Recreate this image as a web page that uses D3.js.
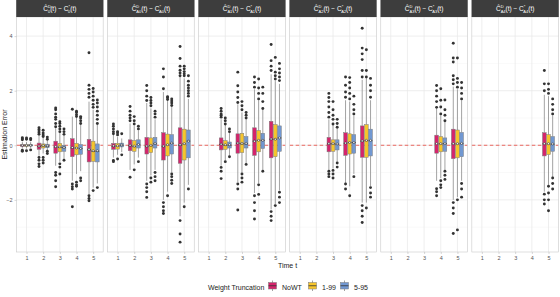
<!DOCTYPE html>
<html>
<head>
<meta charset="utf-8">
<script src="https://cdn.jsdelivr.net/npm/d3@7"></script>
<style>
  body { margin: 0; background: #fff; }
  text { font-family: "Liberation Sans", Arial, sans-serif; }
</style>
</head>
<body>
<svg id="chart" width="560" height="297"></svg>
<script>
const times = [1, 2, 3, 4, 5];
const groups = ["NoWT", "1-99", "5-95"];
const groupColors = ["#D5246C", "#F6C52B", "#7198D2"];
const panelSubs = ["0", "A0", "A1", "A2", "A3", "A4"];
const yTicks = [-2, 0, 2, 4];
const yMinor = [-3, -1, 1, 3];

// rows: [time, group, lowerWhisker, q1, median, mean, q3, upperWhisker, outliers]
const boxesC0 = [
  [1, 0, -0.12, -0.04, -0.01, 0.0, 0.02, 0.12, [0.2, 0.24, 0.28, -0.18, -0.22]],
  [1, 1, -0.12, -0.04, -0.01, 0.0, 0.02, 0.12, [0.22, 0.27, -0.2]],
  [1, 2, -0.1, -0.03, 0.0, 0.0, 0.02, 0.12, [0.2, 0.25, -0.17]],
  [2, 0, -0.38, -0.15, -0.05, -0.03, 0.08, 0.35, [0.4, 0.46, 0.52, 0.58, 0.64, -0.45, -0.55, -0.68, -0.78]],
  [2, 1, -0.3, -0.1, -0.02, -0.01, 0.05, 0.28, [0.32, 0.38, 0.45, 0.55, -0.45, -0.55, -0.65]],
  [2, 2, -0.2, -0.09, -0.04, -0.02, 0.04, 0.18, [0.22, 0.3, -0.22, -0.3]],
  [3, 0, -0.75, -0.29, -0.07, -0.05, 0.15, 0.62, [0.68, 0.8, 0.95, 1.03, 1.15, 1.3, 1.37, -1.0, -1.1, -1.3, -1.52]],
  [3, 1, -0.6, -0.24, -0.08, -0.06, 0.07, 0.45, [0.5, 0.6, 0.7, 0.8, 0.86, -0.68, -0.8, -1.05]],
  [3, 2, -0.5, -0.22, -0.09, -0.08, 0.0, 0.35, [0.4, 0.5, 0.6, -0.55]],
  [4, 0, -1.3, -0.42, -0.1, -0.08, 0.24, 1.05, [1.32, -1.42, -1.52, -1.6, -2.25]],
  [4, 1, -1.05, -0.35, -0.1, -0.1, 0.07, 1.0, [1.05, 1.12, 1.2, 1.25, -1.35, -1.45, -1.5]],
  [4, 2, -0.95, -0.33, -0.12, -0.12, 0.03, 0.75, [0.8, 0.9, 1.0, 1.05, -1.2, -1.3]],
  [5, 0, -1.8, -0.61, -0.17, -0.15, 0.22, 1.6, [1.76, 1.9, 2.05, 2.2, 3.39, -1.85, -1.95, -2.03]],
  [5, 1, -1.55, -0.59, -0.22, -0.2, 0.15, 1.3, [1.39, 1.5, 1.65, 1.8, 1.95, 2.08, -1.66]],
  [5, 2, -1.4, -0.61, -0.22, -0.2, 0.05, 0.75, [0.8, 0.95, 1.1, 1.25, 1.4, 1.55, 1.66, -1.55]]
];
const boxesA0 = [
  [1, 0, -0.45, -0.15, -0.04, -0.02, 0.07, 0.38, [0.42, 0.5, 0.6, 0.7, 0.78, -0.56, -0.6]],
  [1, 1, -0.35, -0.14, -0.03, -0.02, 0.07, 0.3, [0.38, 0.45, 0.5, -0.5]],
  [1, 2, -0.25, -0.06, 0.0, 0.01, 0.08, 0.25, [0.42, -0.35]],
  [2, 0, -0.9, -0.2, -0.02, 0.0, 0.2, 0.8, [0.9, 1.0, 1.1, 1.25, 1.42, -1.17]],
  [2, 1, -0.7, -0.22, -0.05, -0.03, 0.17, 0.7, [0.78, 0.9, 1.05, -0.9]],
  [2, 2, -0.45, -0.1, 0.03, 0.03, 0.2, 0.55, [0.6, 0.7, -0.6]],
  [3, 0, -1.3, -0.32, -0.05, -0.03, 0.29, 1.55, [1.64, 1.8, 2.0, 2.19, -1.42, -1.55, -1.7, -1.91]],
  [3, 1, -1.1, -0.27, -0.02, 0.0, 0.27, 1.35, [1.45, 1.55, 1.64, 1.75, -1.2, -1.35]],
  [3, 2, -0.9, -0.1, 0.05, 0.07, 0.29, 0.95, [1.03, 1.15, 1.25, -1.0, -1.15, -1.3]],
  [4, 0, -2.0, -0.54, -0.05, -0.03, 0.46, 1.95, [2.07, 2.5, 2.8, -2.1, -2.25, -2.4, -2.5]],
  [4, 1, -1.7, -0.39, 0.01, 0.02, 0.41, 1.62, [1.68, 1.74, 1.78, -1.85]],
  [4, 2, -1.0, -0.32, 0.07, 0.08, 0.39, 1.4, [1.46, 1.55, 1.62, 1.7, -1.05, -1.15, -1.28, -1.4]],
  [5, 0, -2.6, -0.66, 0.0, 0.02, 0.64, 2.5, [2.55, 2.65, 2.75, 2.9, 3.18, 3.62, -2.76, -3.25, -3.55]],
  [5, 1, -2.1, -0.54, 0.05, 0.06, 0.59, 2.45, [2.55, 2.62, 2.7, 2.8, 2.9, -2.25]],
  [5, 2, -1.45, -0.46, 0.15, 0.15, 0.56, 1.7, [1.8, 1.9, 2.0, 2.1, 2.2, 2.35, 2.55, -1.6]]
];
const boxesA1 = [
  [2, 0, -0.75, -0.17, 0.03, 0.04, 0.27, 0.95, [1.03, 1.1, 1.15, 1.25, 1.35, -0.81, -0.95, -1.22]],
  [2, 1, -0.55, -0.15, 0.0, 0.02, 0.17, 0.75, [0.78, 0.9, 1.0, -0.6]],
  [2, 2, -0.38, -0.1, 0.0, 0.02, 0.12, 0.45, [0.5, 0.6, -0.42]],
  [3, 0, -1.35, -0.29, 0.07, 0.08, 0.42, 1.5, [1.57, 1.75, 1.95, 2.18, 2.68, -1.42, -1.6, -2.37]],
  [3, 1, -1.0, -0.27, 0.05, 0.07, 0.44, 1.2, [1.3, 1.45, 1.6, -1.05, -1.2, -1.35]],
  [3, 2, -0.65, -0.1, 0.05, 0.07, 0.32, 0.95, [1.0, 1.1, 1.2, -0.7]],
  [4, 0, -1.75, -0.37, 0.15, 0.15, 0.64, 2.05, [2.13, 2.3, 2.5, -1.85, -2.1, -2.4, -2.7]],
  [4, 1, -1.4, -0.24, 0.18, 0.18, 0.54, 1.65, [1.7, 1.9, 2.1, 2.43, -1.45, -1.8]],
  [4, 2, -0.9, -0.12, 0.18, 0.18, 0.44, 1.3, [1.35, 1.6, 1.9, 2.13, -0.95]],
  [5, 0, -2.35, -0.46, 0.22, 0.23, 0.88, 2.6, [2.74, 2.9, 3.1, 3.69, -2.43, -2.6, -2.76]],
  [5, 1, -2.15, -0.42, 0.22, 0.22, 0.76, 2.35, [2.43, 2.55, 2.68, 3.22, -2.21]],
  [5, 2, -1.65, -0.22, 0.27, 0.27, 0.71, 2.25, [2.37, 2.5, 2.65, 2.8, 3.0, -1.72, -1.9, -2.1]]
];
const boxesA2 = [
  [3, 0, -0.9, -0.24, 0.05, 0.06, 0.29, 0.95, [1.03, 1.2, 1.4, 1.6, 1.75, 1.9, -0.95, -1.05, -1.15]],
  [3, 1, -0.85, -0.22, 0.05, 0.06, 0.2, 0.75, [0.78, 0.95, 1.1, 1.3, 1.6, -0.92, -1.05, -1.2]],
  [3, 2, -0.6, -0.17, 0.04, 0.05, 0.2, 0.62, [0.66, 0.8, 0.95, -0.65, -0.8]],
  [4, 0, -1.4, -0.37, 0.07, 0.08, 0.46, 1.65, [1.76, 1.95, 2.2, 2.5, -1.42, -1.6]],
  [4, 1, -1.5, -0.32, 0.1, 0.1, 0.42, 1.6, [1.7, 1.9, 2.1, 2.3, 2.48, -1.85]],
  [4, 2, -1.05, -0.29, 0.1, 0.1, 0.39, 1.1, [1.15, 1.3, 1.5, 1.8, -1.15]],
  [5, 0, -2.1, -0.44, 0.15, 0.16, 0.71, 2.4, [2.5, 2.74, 3.14, 3.35, 3.56, 4.29, -2.21, -2.4, -2.6, -2.83]],
  [5, 1, -2.1, -0.44, 0.17, 0.18, 0.76, 2.45, [2.5, 2.74, 3.5, -2.3]],
  [5, 2, -1.5, -0.39, 0.17, 0.18, 0.59, 1.65, [1.76, 2.0, 2.2, 2.45, -1.55, -1.75, -1.9]]
];
const boxesA3 = [
  [4, 0, -1.3, -0.29, 0.05, 0.06, 0.37, 1.35, [1.39, 1.6, 1.8, 2.0, 2.19, -1.59, -1.7, -1.85]],
  [4, 1, -1.2, -0.24, 0.05, 0.06, 0.32, 1.1, [1.15, 1.4, 1.65, 2.07, -1.3, -1.45, -1.55]],
  [4, 2, -0.9, -0.22, 0.06, 0.06, 0.27, 0.85, [0.9, 1.1, 1.3, 1.66, -0.95, -1.1, -1.25]],
  [5, 0, -2.0, -0.49, 0.05, 0.06, 0.59, 2.15, [2.25, 2.4, 2.55, 3.05, 3.2, 3.74, -2.1, -2.3, -2.5, -3.23]],
  [5, 1, -1.9, -0.46, 0.05, 0.06, 0.56, 2.05, [2.13, 2.3, 2.45, 3.2, -2.0, -3.1]],
  [5, 2, -1.3, -0.42, 0.06, 0.07, 0.47, 1.65, [1.7, 1.9, 2.1, 2.3, -1.4, -1.6, -1.9]]
];
const boxesA4 = [
  [5, 0, -1.7, -0.39, 0.05, 0.06, 0.46, 1.85, [2.0, 2.25, 2.74, -1.79, -2.0, -2.15]],
  [5, 1, -1.45, -0.34, 0.05, 0.06, 0.39, 1.8, [1.9, 2.05, 2.25, -1.5, -1.75, -2.0, -2.4]],
  [5, 2, -1.2, -0.22, 0.04, 0.05, 0.32, 1.1, [1.15, 1.3, 1.5, 1.7, -1.2, -1.4, -1.6]]
];
const panelBoxes = [boxesC0, boxesA0, boxesA1, boxesA2, boxesA3, boxesA4];

// layout
const W = 560, H = 297;
const plotLeft = 16.5, plotRight = 558.5, plotTop = 17, plotBottom = 252;
const gap = 4.4;
const nPanels = panelBoxes.length;
const pw = (plotRight - plotLeft - gap * (nPanels - 1)) / nPanels;

const svg = d3.select("#chart");

const y = d3.scaleLinear().domain([-3.91, 4.70]).range([plotBottom, plotTop]);
const x = d3.scalePoint().domain(times).range([0, pw]).padding(0.6);
const step = x.step();
const dodge = step * 0.25;
const boxW = step * 0.22;

panelBoxes.forEach((rows, pi) => {
  const px = plotLeft + pi * (pw + gap);
  const g = svg.append("g").attr("transform", `translate(${px},0)`);

  // panel background + grid
  g.append("rect").attr("x", 0).attr("y", plotTop).attr("width", pw)
    .attr("height", plotBottom - plotTop).attr("fill", "#fff");

  g.selectAll(".minor").data(yMinor).join("line")
    .attr("x1", 0).attr("x2", pw)
    .attr("y1", d => y(d)).attr("y2", d => y(d))
    .attr("stroke", "#F2F2F2").attr("stroke-width", 0.5);

  g.selectAll(".major").data(yTicks).join("line")
    .attr("x1", 0).attr("x2", pw)
    .attr("y1", d => y(d)).attr("y2", d => y(d))
    .attr("stroke", "#E6E6E6").attr("stroke-width", 0.7);

  g.selectAll(".vgrid").data(times).join("line")
    .attr("x1", d => x(d)).attr("x2", d => x(d))
    .attr("y1", plotTop).attr("y2", plotBottom)
    .attr("stroke", "#E6E6E6").attr("stroke-width", 0.7);

  // red dashed reference line at zero
  g.append("line")
    .attr("x1", 0).attr("x2", pw)
    .attr("y1", y(0)).attr("y2", y(0))
    .attr("stroke", "#E8453C").attr("stroke-width", 0.8)
    .attr("stroke-dasharray", "3.5,2.5");

  // boxplots
  const box = g.selectAll(".box").data(rows).join("g").attr("class", "box")
    .attr("transform", d => `translate(${x(d[0]) + (d[1] - 1) * dodge},0)`);

  box.append("line").attr("x1", 0).attr("x2", 0)
    .attr("y1", d => y(d[7])).attr("y2", d => y(d[6]))
    .attr("stroke", "#8C8C8C").attr("stroke-width", 0.8);
  box.append("line").attr("x1", 0).attr("x2", 0)
    .attr("y1", d => y(d[3])).attr("y2", d => y(d[2]))
    .attr("stroke", "#8C8C8C").attr("stroke-width", 0.8);

  box.append("rect")
    .attr("x", -boxW / 2).attr("width", boxW)
    .attr("y", d => y(d[6])).attr("height", d => Math.max(0.6, y(d[3]) - y(d[6])))
    .attr("fill", d => groupColors[d[1]])
    .attr("stroke", "#7A7A7A").attr("stroke-width", 0.5);

  box.append("line")
    .attr("x1", -boxW / 2).attr("x2", boxW / 2)
    .attr("y1", d => y(d[4])).attr("y2", d => y(d[4]))
    .attr("stroke", "#333").attr("stroke-width", 0.8);

  box.selectAll(".out").data(d => d[8]).join("circle")
    .attr("cx", 0).attr("cy", v => y(v)).attr("r", 1.45)
    .attr("fill", "#333");

  box.append("circle")
    .attr("cx", 0).attr("cy", d => y(d[5])).attr("r", 1.05)
    .attr("fill", "#fff").attr("stroke", "#222").attr("stroke-width", 0.5);

  // panel border
  g.append("rect").attr("x", 0).attr("y", plotTop).attr("width", pw)
    .attr("height", plotBottom - plotTop)
    .attr("fill", "none").attr("stroke", "#C9C9C9").attr("stroke-width", 0.6);

  // strip
  g.append("rect").attr("x", -0.3).attr("y", 0).attr("width", pw + 0.6)
    .attr("height", plotTop).attr("fill", "#3D3D3D");

  const sub = panelSubs[pi];
  const subW = sub.length * 2.6;
  const t = g.append("text").attr("x", pw / 2).attr("y", 11.2)
    .attr("text-anchor", "middle").attr("fill", "#fff").attr("font-size", 6.5);
  t.append("tspan").text("Ĉ");
  t.append("tspan").attr("font-size", 4).attr("dy", -2.8).text("D");
  t.append("tspan").attr("font-size", 4).attr("dx", -2.9).attr("dy", 5).text(sub);
  t.append("tspan").attr("dy", -2.2).text("(t) − C");
  t.append("tspan").attr("font-size", 4).attr("dy", -2.8).text("*");
  t.append("tspan").attr("font-size", 4).attr("dx", -2.0).attr("dy", 5).text(sub);
  t.append("tspan").attr("dy", -2.2).text("(t)");

  // x axis
  const xa = g.append("g").attr("transform", `translate(0,${plotBottom})`)
    .call(d3.axisBottom(x).tickSize(2).tickPadding(2));
  xa.select(".domain").remove();
  xa.selectAll(".tick line").attr("stroke", "#B0B0B0").attr("stroke-width", 0.5);
  xa.selectAll(".tick text").attr("fill", "#555").attr("font-size", 5.5)
    .attr("font-family", "Liberation Sans, Arial, sans-serif");
});

// y axis
const ya = svg.append("g").attr("transform", `translate(${plotLeft},0)`)
  .call(d3.axisLeft(y).tickValues(yTicks).tickSize(2).tickPadding(2));
ya.select(".domain").remove();
ya.selectAll(".tick line").attr("stroke", "#B0B0B0").attr("stroke-width", 0.5);
ya.selectAll(".tick text").attr("fill", "#555").attr("font-size", 5.5)
  .attr("font-family", "Liberation Sans, Arial, sans-serif");

svg.append("text")
  .attr("transform", `translate(6.5,${(plotTop + plotBottom) / 2}) rotate(-90)`)
  .attr("text-anchor", "middle").attr("font-size", 7).attr("fill", "#222")
  .text("Estimation Error");

svg.append("text")
  .attr("x", (plotLeft + plotRight) / 2).attr("y", 268)
  .attr("text-anchor", "middle").attr("font-size", 7).attr("fill", "#222")
  .text("Time t");

// legend
const legend = svg.append("g").attr("transform", "translate(208,0)");
legend.append("text").attr("x", 0).attr("y", 289.5).attr("font-size", 7)
  .attr("fill", "#222").text("Weight Truncation");
const legendX = [60, 100, 132];
groups.forEach((name, i) => {
  const lg = legend.append("g").attr("transform", `translate(${legendX[i]},280)`);
  lg.append("line").attr("x1", 4.5).attr("x2", 4.5).attr("y1", 0.5).attr("y2", 11)
    .attr("stroke", "#8C8C8C").attr("stroke-width", 0.8);
  lg.append("rect").attr("x", 0.5).attr("y", 2.5).attr("width", 8).attr("height", 6.5)
    .attr("fill", groupColors[i]).attr("stroke", "#7A7A7A").attr("stroke-width", 0.5);
  lg.append("line").attr("x1", 0.5).attr("x2", 8.5).attr("y1", 5.75).attr("y2", 5.75)
    .attr("stroke", "#333").attr("stroke-width", 0.8);
  lg.append("text").attr("x", 14).attr("y", 9.5).attr("font-size", 7)
    .attr("fill", "#222").text(name);
});
</script>
</body>
</html>
